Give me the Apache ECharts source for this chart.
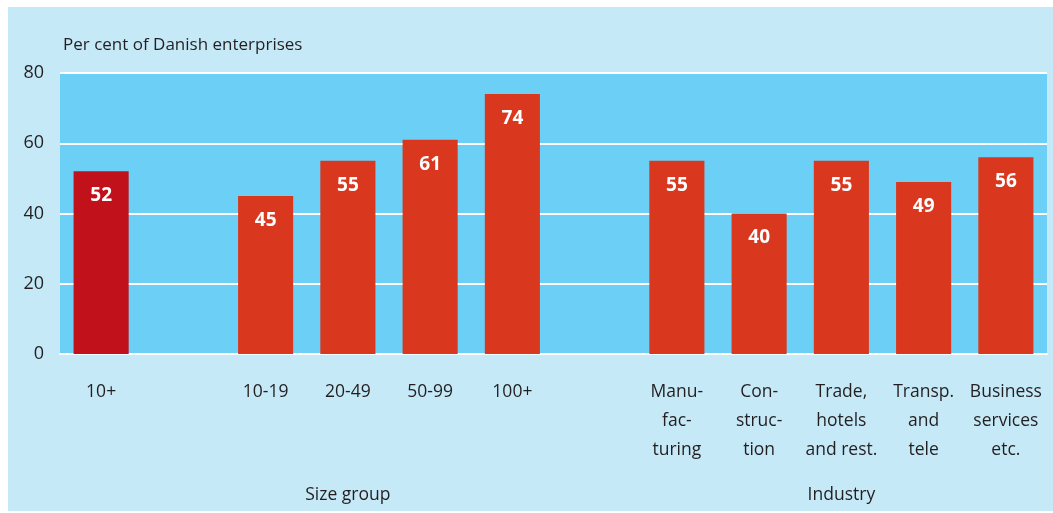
<!DOCTYPE html>
<html><head><meta charset="utf-8">
<script src="https://cdn.jsdelivr.net/npm/echarts@6/dist/echarts.min.js"></script>
<style>html,body{margin:0;padding:0;background:#fff}#c{width:1053px;height:513px}</style>
</head><body><div id="c"></div>
<script>
const categories = ['10+', '', '10-19', '20-49', '50-99', '100+', '', 'Manu-\nfac-\nturing', 'Con-\nstruc-\ntion', 'Trade,\nhotels\nand rest.', 'Transp.\nand\ntele', 'Business\nservices\netc.'];
const values = [52, null, 45, 55, 61, 74, null, 55, 40, 55, 49, 56];
const highlightIndex = [0];
const yTicks = [0, 20, 40, 60, 80];
const groups = [{name: 'Size group', at: 3}, {name: 'Industry', at: 9}];

const FONT = '"Open Sans", "Noto Sans", sans-serif';
const chart = echarts.init(document.getElementById('c'));
const panel = {type: 'rect', z: -10, shape: {x: 8, y: 7, width: 1045, height: 504}, style: {fill: '#c6e9f8'}};
const option = {
  animation: false,
  backgroundColor: '#ffffff',
  graphic: [panel],
  title: {text: 'Per cent of Danish enterprises', left: 58, top: 32,
    textStyle: {fontFamily: FONT, fontSize: 17, fontWeight: 'normal', color: '#231f20'}},
  grid: {left: 60, right: 6, top: 73, bottom: 159, show: true, backgroundColor: '#6ccff6', borderWidth: 0},
  xAxis: {type: 'category', data: categories,
    axisLine: {show: true, lineStyle: {color: '#ffffff', width: 2}},
    axisTick: {show: false},
    axisLabel: {interval: 0, margin: 24, fontFamily: FONT, fontSize: 17.5, color: '#231f20', lineHeight: 29}},
  yAxis: {type: 'value', min: yTicks[0], max: yTicks[yTicks.length - 1], interval: 20,
    axisLine: {show: false}, axisTick: {show: false},
    axisLabel: {margin: 16, fontFamily: FONT, fontSize: 18, color: '#231f20'},
    splitLine: {lineStyle: {color: '#ffffff', width: 2}}},
  series: [{type: 'bar', barCategoryGap: '33%',
    data: values.map((v, i) => v === null ? null : {value: v,
      itemStyle: {color: highlightIndex.includes(i) ? '#c1121c' : '#d9381e'}}),
    label: {show: true, position: 'insideTop', distance: 15, color: '#ffffff',
      fontFamily: FONT, fontSize: 19, fontWeight: 'bold'}}]
};
chart.setOption(option);
const gy = chart.convertToPixel({yAxisIndex: 0}, 0);
chart.setOption({graphic: [panel].concat(
  groups.map(g => ({type: 'text', x: chart.convertToPixel({xAxisIndex: 0}, categories[g.at]), y: gy + 141,
    style: {text: g.name, fill: '#231f20', font: '17.5px ' + FONT, textAlign: 'center', textVerticalAlign: 'middle'}})))});
</script></body></html>
